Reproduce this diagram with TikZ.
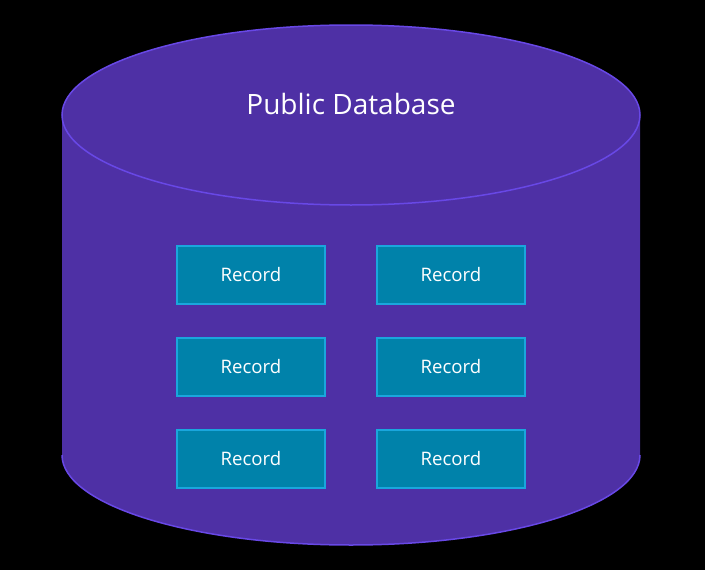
\documentclass[tikz,border=0pt]{standalone}
\usepackage{fontspec}
\setmainfont{Open Sans}
\definecolor{bg}{HTML}{000000}
\definecolor{cylfill}{HTML}{4E30A5}
\definecolor{cyledge}{HTML}{6848E6}
\definecolor{recfill}{HTML}{0082AA}
\definecolor{recedge}{HTML}{1AA6DD}
\begin{document}
\begin{tikzpicture}[x=1pt,y=-1pt,
  record/.style={draw=recedge, line width=1.5pt, fill=recfill, minimum width=148pt, minimum height=58pt, inner sep=0pt, text=white, font=\fontsize{18.6}{22}\selectfont},
  cyl/.style={draw=cyledge, line width=1.5pt}]
\fill[bg] (0,0) rectangle (705,570);
\useasboundingbox (0,0) rectangle (705,570);
% body
\fill[cylfill] (62,115) -- (62,455) arc[start angle=180, end angle=360, x radius=289, y radius=-90] -- (640,115) -- cycle;
\fill[cylfill] (351,115) ellipse[x radius=289, y radius=90];
\draw[cyl] (62,455) arc[start angle=180, end angle=360, x radius=289, y radius=-90];
\draw[cyl] (351,115) ellipse[x radius=289, y radius=90];
\node[text=white, font=\fontsize{28}{32}\selectfont] (title) at (351,104) {Public Database};
\node[record] (r11) at (251,275) {Record};
\node[record] (r12) at (451,275) {Record};
\node[record] (r21) at (251,367) {Record};
\node[record] (r22) at (451,367) {Record};
\node[record] (r31) at (251,459) {Record};
\node[record] (r32) at (451,459) {Record};
\end{tikzpicture}
\end{document}
